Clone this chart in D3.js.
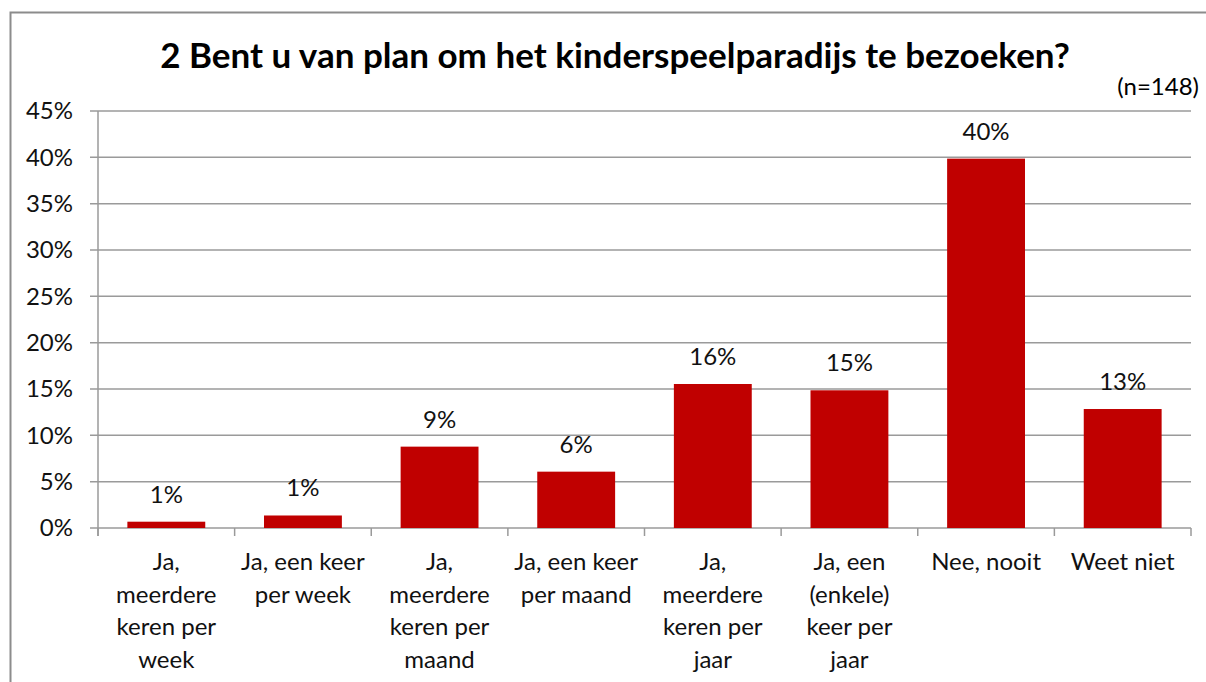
<!DOCTYPE html>
<html>
<head>
<meta charset="utf-8">
<script src="https://cdn.jsdelivr.net/npm/d3@7"></script>
<style>
  body { margin: 0; background: #fff; overflow: hidden; }
  svg { display: block; font-family: Lato, "Open Sans", sans-serif; }
</style>
</head>
<body>
<svg width="1206" height="682"></svg>
<script>
// answers, wrapped the way the chart shows them
const categories = [
  "Ja,\nmeerdere\nkeren per\nweek",
  "Ja, een keer\nper week",
  "Ja,\nmeerdere\nkeren per\nmaand",
  "Ja, een keer\nper maand",
  "Ja,\nmeerdere\nkeren per\njaar",
  "Ja, een\n(enkele)\nkeer per\njaar",
  "Nee, nooit",
  "Weet niet"
]
const values = [0.0068, 0.0135, 0.0878, 0.0608, 0.1554, 0.1486, 0.3986, 0.1284]
const yTicks = [0, 0.05, 0.10, 0.15, 0.20, 0.25, 0.30, 0.35, 0.40, 0.45]
const title = "2 Bent u van plan om het kinderspeelparadijs te bezoeken?"
const note = "(n=148)"

const svg = d3.select("svg")
const plotLeft = 98, plotRight = 1191, plotTop = 111, plotBottom = 528

// outer frame (only left and top are visible)
svg.append("path")
  .attr("d", "M10.5,700 V12.5 H1220")
  .attr("fill", "none")
  .attr("stroke", "#8c8c8c")
  .attr("stroke-width", 2)

svg.append("text")
  .attr("x", 615).attr("y", 68)
  .attr("text-anchor", "middle")
  .attr("font-size", 35).attr("font-weight", "bold")
  .text(title)

svg.append("text")
  .attr("x", 1199).attr("y", 95)
  .attr("text-anchor", "end")
  .attr("font-size", 24)
  .text(note)

let x = d3.scaleBand().domain(categories).range([plotLeft, plotRight]).paddingInner(0.43).paddingOuter(0.215)
let y = d3.scaleLinear().domain([0, 0.45]).range([plotBottom, plotTop])

// gridlines
svg.append("g")
  .selectAll("line")
  .data(yTicks)
  .enter().append("line")
  .attr("x1", plotLeft - 8).attr("x2", plotRight)
  .attr("y1", d => y(d)).attr("y2", d => y(d))
  .attr("stroke", "#9a9a9a")
  .attr("stroke-width", 1.5)

// y axis line
svg.append("line")
  .attr("x1", plotLeft).attr("x2", plotLeft)
  .attr("y1", plotTop).attr("y2", plotBottom + 8)
  .attr("stroke", "#9a9a9a").attr("stroke-width", 1.5)

// y labels
svg.append("g")
  .selectAll("text")
  .data(yTicks)
  .enter().append("text")
  .attr("x", 73).attr("y", d => y(d))
  .attr("dy", "0.35em")
  .attr("text-anchor", "end")
  .attr("font-size", 24)
  .attr("fill", "#111")
  .text(d3.format(".0%"))

// category ticks between bars
let boundaries = d3.range(categories.length + 1).map(i => plotLeft + i * (plotRight - plotLeft) / categories.length)
svg.append("g")
  .selectAll("line")
  .data(boundaries)
  .enter().append("line")
  .attr("x1", d => d).attr("x2", d => d)
  .attr("y1", plotBottom).attr("y2", plotBottom + 8)
  .attr("stroke", "#9a9a9a").attr("stroke-width", 1.5)

// bars
svg.append("g")
  .selectAll("rect")
  .data(values)
  .enter().append("rect")
  .attr("x", (d, i) => x(categories[i]))
  .attr("width", x.bandwidth())
  .attr("y", d => y(d))
  .attr("height", d => plotBottom - y(d))
  .attr("fill", "#c00000")

// value labels
svg.append("g")
  .selectAll("text")
  .data(values)
  .enter().append("text")
  .attr("x", (d, i) => x(categories[i]) + x.bandwidth() / 2)
  .attr("y", d => y(d) - 19)
  .attr("text-anchor", "middle")
  .attr("font-size", 24)
  .attr("fill", "#111")
  .text(d3.format(".0%"))

// category labels
let catG = svg.append("g")
categories.forEach((c, i) => {
  let t = catG.append("text")
    .attr("x", x(c) + x.bandwidth() / 2)
    .attr("y", 570)
    .attr("text-anchor", "middle")
    .attr("font-size", 24)
    .attr("fill", "#111")
  c.split("\n").forEach((line, j) => {
    t.append("tspan")
      .attr("x", x(c) + x.bandwidth() / 2)
      .attr("dy", j === 0 ? 0 : 32.6)
      .text(line)
  })
})
</script>
</body>
</html>
